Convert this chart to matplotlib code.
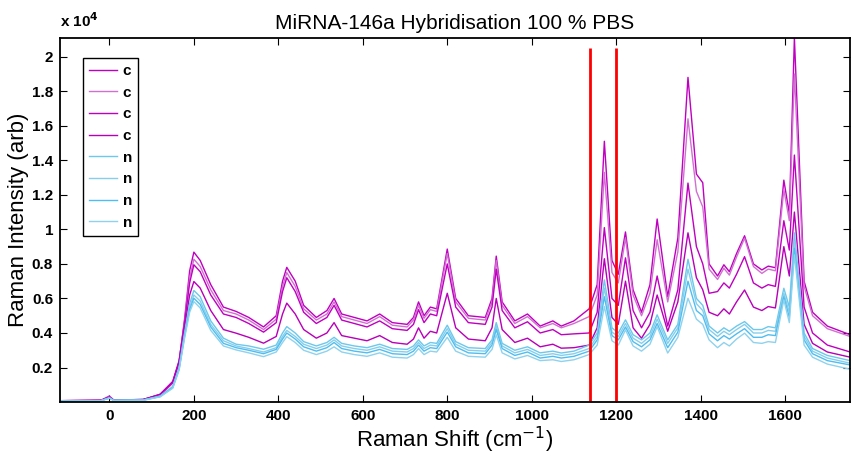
#!/usr/bin/env python3
#
# Raman spectra, miRNA-146a hybridisation in 100 % PBS
#

import matplotlib.pyplot as plt

shift = [-117, -20, 0, 10, 80, 120, 150, 165, 178, 190,
         200, 215, 240, 270, 300, 330, 365, 395, 410, 420,
         440, 460, 490, 515, 532, 550, 580, 610, 640, 670,
         705, 720, 732, 745, 760, 775, 800, 820, 850, 890,
         906, 916, 930, 960, 990, 1020, 1050, 1070, 1100, 1136,
         1155, 1172, 1190, 1205, 1222, 1240, 1260, 1280, 1297, 1322,
         1346, 1370, 1390, 1405, 1420, 1440, 1455, 1468, 1485, 1504,
         1525, 1545, 1560, 1577, 1597, 1610, 1622, 1645, 1665, 1700,
         1754]

# "c" spectra (magenta)
c1 = [80, 100, 350, 120, 150, 400, 1100, 2300, 4800, 7600,
      8680, 8200, 6800, 5500, 5250, 4900, 4350, 5000, 7000, 7800,
      7000, 5600, 4900, 5300, 6000, 5100, 4900, 4700, 5100, 4600,
      4500, 4900, 5800, 5000, 5500, 5400, 8860, 6000, 5000, 4900,
      6000, 8450, 5800, 4700, 5100, 4400, 4700, 4400, 4700, 5400,
      6800, 15100, 8200, 7400, 9850, 6500, 5200, 6800, 10600, 6100,
      9500, 18800, 13200, 12700, 8000, 7300, 7950, 7550, 8600, 9630,
      8000, 7650, 7870, 7780, 12850, 10900, 21100, 7000, 5200, 4400,
      3900]
c2 = [80, 100, 330, 120, 150, 420, 1150, 2350, 4700, 7200,
      8270, 7850, 6500, 5300, 5100, 4750, 4200, 4800, 6700, 7500,
      6700, 5400, 4750, 5100, 5800, 4950, 4750, 4550, 4950, 4450,
      4350, 4750, 5600, 4850, 5350, 5250, 8600, 5800, 4850, 4750,
      5800, 8200, 5600, 4550, 4950, 4300, 4550, 4300, 4550, 4950,
      6200, 13300, 7500, 6900, 9500, 6200, 5000, 6300, 9400, 5800,
      8700, 16400, 12200, 11300, 7700, 7100, 7750, 7350, 8400, 9490,
      7850, 7450, 7700, 7600, 12300, 10500, 19000, 6700, 5000, 4250,
      3800]
c3 = [80, 100, 300, 110, 150, 450, 1200, 2400, 4600, 6900,
      7950, 7550, 6200, 5100, 4900, 4550, 4050, 4600, 6400, 7200,
      6400, 5200, 4550, 4900, 5600, 4750, 4550, 4350, 4700, 4250,
      4150, 4500, 5350, 4600, 5100, 5000, 8000, 5500, 4600, 4500,
      5500, 7700, 5300, 4300, 4650, 4000, 4200, 3900, 3950, 4000,
      5200, 10100, 6000, 5600, 8350, 5300, 4300, 5200, 7300, 4400,
      6500, 12680, 9000, 8000, 6300, 6400, 6900, 6600, 7400, 8420,
      6900, 6600, 6800, 6700, 10500, 8800, 14300, 5500, 4000, 3300,
      2900]
c4 = [80, 100, 280, 110, 140, 450, 1150, 2300, 4300, 6200,
      6980, 6600, 5300, 4200, 3990, 3750, 3410, 3800, 5100, 5730,
      5100, 4200, 3700, 4000, 4600, 3850, 3700, 3550, 3850, 3450,
      3350, 3650, 4300, 3700, 4100, 4000, 6300, 4300, 3650, 3550,
      4300, 6000, 4200, 3450, 3700, 3200, 3350, 3120, 3150, 3300,
      4300, 8300, 4900, 4500, 7000, 4300, 3700, 4500, 6200, 4100,
      5800, 9800, 7200, 6500, 5200, 5000, 5400, 5100, 5800, 6490,
      5500, 5300, 5530, 5450, 9000, 7300, 11000, 4500, 3400, 2900,
      2600]

# "n" spectra (cyan)
n1 = [60, 80, 250, 100, 120, 350, 900, 2000, 4000, 5700,
      6460, 6100, 4700, 3700, 3350, 3250, 3060, 3300, 4000, 4370,
      4000, 3500, 3250, 3450, 3750, 3400, 3250, 3150, 3350, 3100,
      3050, 3250, 3600, 3250, 3450, 3400, 4450, 3500, 3150, 3100,
      3600, 4600, 3400, 3000, 3200, 2850, 2950, 2840, 2950, 3300,
      4000, 7070, 4300, 4000, 4760, 3900, 3600, 4000, 5050, 3600,
      4500, 8270, 6000, 5600, 4400, 4000, 4300, 4100, 4400, 4660,
      4200, 4200, 4370, 4300, 6590, 5500, 9800, 4000, 3100, 2700,
      2400]
n2 = [60, 80, 240, 100, 120, 330, 870, 1950, 3900, 5500,
      6200, 5850, 4500, 3550, 3250, 3100, 2900, 3150, 3800, 4150,
      3800, 3350, 3100, 3300, 3600, 3250, 3100, 3000, 3200, 2950,
      2900, 3100, 3450, 3100, 3300, 3250, 4250, 3350, 3000, 2950,
      3450, 4400, 3250, 2850, 3050, 2700, 2800, 2700, 2800, 3100,
      3800, 6600, 4050, 3800, 4550, 3700, 3400, 3800, 4800, 3400,
      4300, 7700, 5700, 5300, 4200, 3800, 4100, 3900, 4200, 4500,
      4000, 4000, 4150, 4100, 6300, 5200, 9300, 3800, 2950, 2550,
      2250]
n3 = [60, 80, 230, 100, 110, 320, 840, 1900, 3800, 5350,
      6010, 5650, 4350, 3400, 3150, 3000, 2800, 3050, 3650, 4000,
      3650, 3200, 2950, 3150, 3450, 3100, 2950, 2850, 3050, 2800,
      2750, 2950, 3300, 2950, 3150, 3100, 4050, 3200, 2850, 2800,
      3300, 4200, 3100, 2700, 2900, 2550, 2650, 2550, 2650, 2950,
      3600, 6100, 3850, 3600, 4350, 3500, 3200, 3600, 4550, 3150,
      4050, 7000, 5300, 5000, 3950, 3550, 3850, 3650, 3950, 4250,
      3750, 3750, 3900, 3850, 6100, 4900, 8900, 3600, 2800, 2400,
      2150]
n4 = [60, 80, 220, 90, 100, 300, 800, 1850, 3700, 5200,
      5820, 5450, 4150, 3250, 3020, 2850, 2630, 2900, 3450, 3790,
      3450, 3000, 2750, 2950, 3200, 2900, 2750, 2650, 2850, 2600,
      2550, 2750, 3100, 2750, 2950, 2900, 3750, 2950, 2650, 2600,
      3050, 3900, 2850, 2500, 2700, 2400, 2450, 2350, 2450, 2750,
      3300, 5530, 3550, 3300, 4180, 3250, 2950, 3350, 4370, 2840,
      3750, 6010, 4800, 4500, 3600, 3150, 3450, 3250, 3650, 3990,
      3450, 3400, 3500, 3450, 5920, 4600, 8520, 3300, 2600, 2200,
      1900]

series = [c1, c2, c3, c4, n1, n2, n3, n4]
labels = ['c', 'c', 'c', 'c', 'n', 'n', 'n', 'n']
colors = ['#C000C0', '#D070D0', '#C000C0', '#B800B8',
          '#6CC8EC', '#87CEEB', '#4FBDF0', '#8ED2EE']

# marker lines
red_lines = [1138, 1200]

plt.rcParams['font.family'] = ['Liberation Sans', 'DejaVu Sans']

fig = plt.figure(figsize=(8.57, 4.59), dpi=100)
ax = fig.add_axes([0.070, 0.124, 0.922, 0.794])

for y, lab, col in zip(series, labels, colors):
    ax.plot(shift, y, color=col, lw=1.0, label=lab)

ax.vlines(red_lines, 0, 20500, color='red', lw=2)

ax.set_xlim(-117, 1754)
ax.set_ylim(0, 21100)

xt = list(range(0, 1601, 200))
ax.set_xticks(xt)
ax.set_xticklabels([str(v) for v in xt], fontweight='bold', fontsize=11)
yt = [2000 * k for k in range(1, 11)]
ax.set_yticks(yt)
ax.set_yticklabels(['%g' % (v / 1e4) for v in yt], fontweight='bold', fontsize=11)

ax.tick_params(direction='in', top=True, right=True, length=5, width=0.8, pad=5)
for s in ax.spines.values():
    s.set_linewidth(1.3)

ax.set_title('MiRNA-146a Hybridisation 100 % PBS', fontsize=15, pad=6)
ax.set_xlabel('Raman Shift (cm$^{-1}$)', fontsize=16, labelpad=1)
ax.set_ylabel('Raman Intensity (arb)', fontsize=16, labelpad=2)

fig.text(0.070, 0.935, r'x 10$^{\mathbf{4}}$', fontsize=11, fontweight='bold',
         ha='left', va='bottom')

leg = ax.legend(loc='upper left', bbox_to_anchor=(0.029, 0.944), borderaxespad=0,
                fancybox=False, edgecolor='black', framealpha=1,
                prop={'weight': 'bold', 'size': 11}, handlelength=1.8,
                labelspacing=0.5, handletextpad=0.4, borderpad=0.4)
leg.get_frame().set_linewidth(1.0)

fig.savefig('out.png', dpi=100)
